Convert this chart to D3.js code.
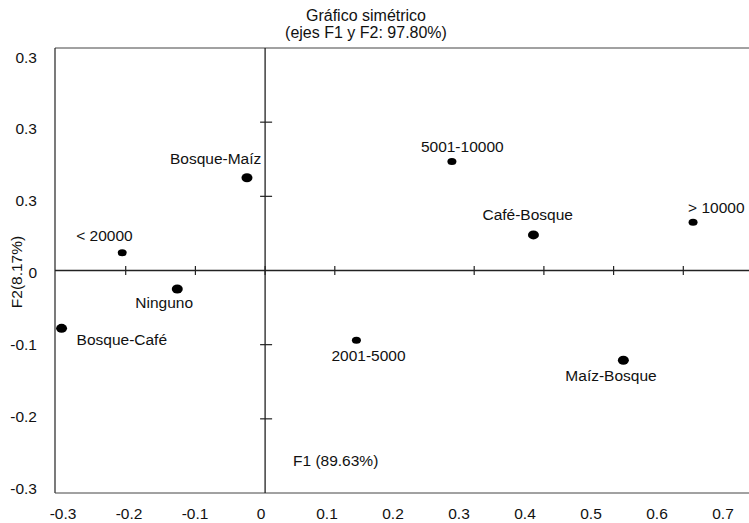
<!DOCTYPE html>
<html>
<head>
<meta charset="utf-8">
<script src="https://cdn.jsdelivr.net/npm/d3@7"></script>
<style>
  html, body { margin: 0; padding: 0; background: #fff; }
  svg { display: block; font-family: "Liberation Sans", Arial, sans-serif; }
</style>
</head>
<body>
<svg id="chart" width="749" height="523"></svg>
<script>
// ---- data ----
const categories = ["Bosque-Maíz", "5001-10000", "Café-Bosque", "> 10000", "< 20000",
                    "Ninguno", "Bosque-Café", "2001-5000", "Maíz-Bosque"];
const f1Values = [-0.026, 0.268, 0.385, 0.614, -0.205, -0.126, -0.292, 0.131, 0.514];
const f2Values = [0.125, 0.147, 0.048, 0.065, 0.024, -0.025, -0.078, -0.094, -0.121];
const xTickValues = [-0.3, -0.2, -0.1, 0, 0.1, 0.2, 0.3, 0.4, 0.5, 0.6, 0.7];
const xTickLabels = ["-0.3", "-0.2", "-0.1", "0", "0.1", "0.2", "0.3", "0.4", "0.5", "0.6", "0.7"];
const xAxisMarks = [-0.2, -0.1, 0, 0.1, 0.3, 0.4, 0.5, 0.6];
const yTickValues = [0.3, 0.2, 0.1, 0, -0.1, -0.2, -0.3];
const yTickLabels = ["0.3", "0.3", "0.3", "0", "-0.1", "-0.2", "-0.3"];
const yAxisMarks = [0.2, 0.1, -0.1, -0.2];
const titleLines = ["Gráfico simétrico", "(ejes F1 y F2: 97.80%)"];
const xTitle = "F1 (89.63%)";
const yTitle = "F2(8.17%)";

// ---- layout (kept apart from data) ----
const bigPoints = new Set(["Bosque-Maíz", "Café-Bosque", "Bosque-Café", "Maíz-Bosque", "Ninguno"]);
const labelOffsets = {
  "Bosque-Maíz": [-77, -19], "5001-10000": [-31, -15], "Café-Bosque": [-51, -20],
  "> 10000": [-5, -15], "< 20000": [-46, -17], "Ninguno": [-42, 13],
  "Bosque-Café": [15, 11], "2001-5000": [-25, 15], "Maíz-Bosque": [-58, 15]
};
const FS = 15.5;

const svg = d3.select("#chart");
const x = d3.scaleLinear().domain([-0.3, 0.7]).range([56, 753]);
const y = d3.scaleLinear().domain([-0.3, 0.3]).range([493, 48]);
const xLab = d3.scaleLinear().domain([-0.3, 0.7]).range([63, 723]);
const yLab = d3.scaleLinear().domain([-0.3, 0.3]).range([488, 57]);

const frameL = 55, frameR = 749, frameT = y(0.3), frameB = y(-0.3);
const lineColor = "#222";

// frame
svg.append("line").attr("x1", frameL).attr("x2", frameR).attr("y1", frameT).attr("y2", frameT)
  .attr("stroke", "#444").attr("stroke-width", 1);
svg.append("line").attr("x1", frameL).attr("x2", frameL).attr("y1", frameT).attr("y2", frameB)
  .attr("stroke", lineColor).attr("stroke-width", 1.2);
svg.append("line").attr("x1", frameL).attr("x2", frameR).attr("y1", frameB).attr("y2", frameB)
  .attr("stroke", "#444").attr("stroke-width", 1);

// zero axes
svg.append("line").attr("x1", frameL).attr("x2", frameR).attr("y1", y(0)).attr("y2", y(0))
  .attr("stroke", lineColor).attr("stroke-width", 1.3);
svg.append("line").attr("x1", x(0)).attr("x2", x(0)).attr("y1", frameT).attr("y2", frameB)
  .attr("stroke", lineColor).attr("stroke-width", 1.3);

// tick marks on zero axes
svg.selectAll(".xm").data(xAxisMarks).enter().append("line")
  .attr("x1", d => x(d)).attr("x2", d => x(d))
  .attr("y1", y(0) - 4.5).attr("y2", y(0) + 4.5)
  .attr("stroke", lineColor).attr("stroke-width", 1.2);
svg.selectAll(".ym").data(yAxisMarks).enter().append("line")
  .attr("x1", x(0) - 5).attr("x2", x(0) + 7)
  .attr("y1", d => y(d)).attr("y2", d => y(d))
  .attr("stroke", lineColor).attr("stroke-width", 1.2);

// tick labels
svg.selectAll(".xl").data(xTickValues).enter().append("text")
  .attr("x", d => xLab(d)).attr("y", 519)
  .attr("text-anchor", "middle").attr("font-size", FS).attr("fill", "#111")
  .text((d, i) => xTickLabels[i]);
svg.selectAll(".yl").data(yTickValues).enter().append("text")
  .attr("x", 37).attr("y", d => yLab(d))
  .attr("dominant-baseline", "central")
  .attr("text-anchor", "end").attr("font-size", FS).attr("fill", "#111")
  .text((d, i) => yTickLabels[i]);

// titles
svg.selectAll(".title").data(titleLines).enter().append("text")
  .attr("x", 366).attr("y", (d, i) => 15 + i * 17)
  .attr("dominant-baseline", "central")
  .attr("text-anchor", "middle").attr("font-size", 16).attr("fill", "#111")
  .text(d => d);
svg.append("text").attr("x", 293).attr("y", 460)
  .attr("dominant-baseline", "central")
  .attr("font-size", FS).attr("fill", "#111").text(xTitle);
svg.append("text")
  .attr("transform", "translate(16,272) rotate(-90)")
  .attr("text-anchor", "middle").attr("dominant-baseline", "central")
  .attr("font-size", FS).attr("fill", "#111").text(yTitle);

// points
const pts = categories.map((c, i) => ({ name: c, f1: f1Values[i], f2: f2Values[i] }));
svg.selectAll(".pt").data(pts).enter().append("ellipse")
  .attr("cx", d => x(d.f1)).attr("cy", d => y(d.f2))
  .attr("rx", d => bigPoints.has(d.name) ? 5.5 : 4.5)
  .attr("ry", d => bigPoints.has(d.name) ? 4.5 : 3.5)
  .attr("fill", "#000");

svg.selectAll(".pl").data(pts).enter().append("text")
  .attr("x", d => x(d.f1) + labelOffsets[d.name][0])
  .attr("y", d => y(d.f2) + labelOffsets[d.name][1])
  .attr("dominant-baseline", "central")
  .attr("font-size", FS).attr("fill", "#111")
  .text(d => d.name);
</script>
</body>
</html>
